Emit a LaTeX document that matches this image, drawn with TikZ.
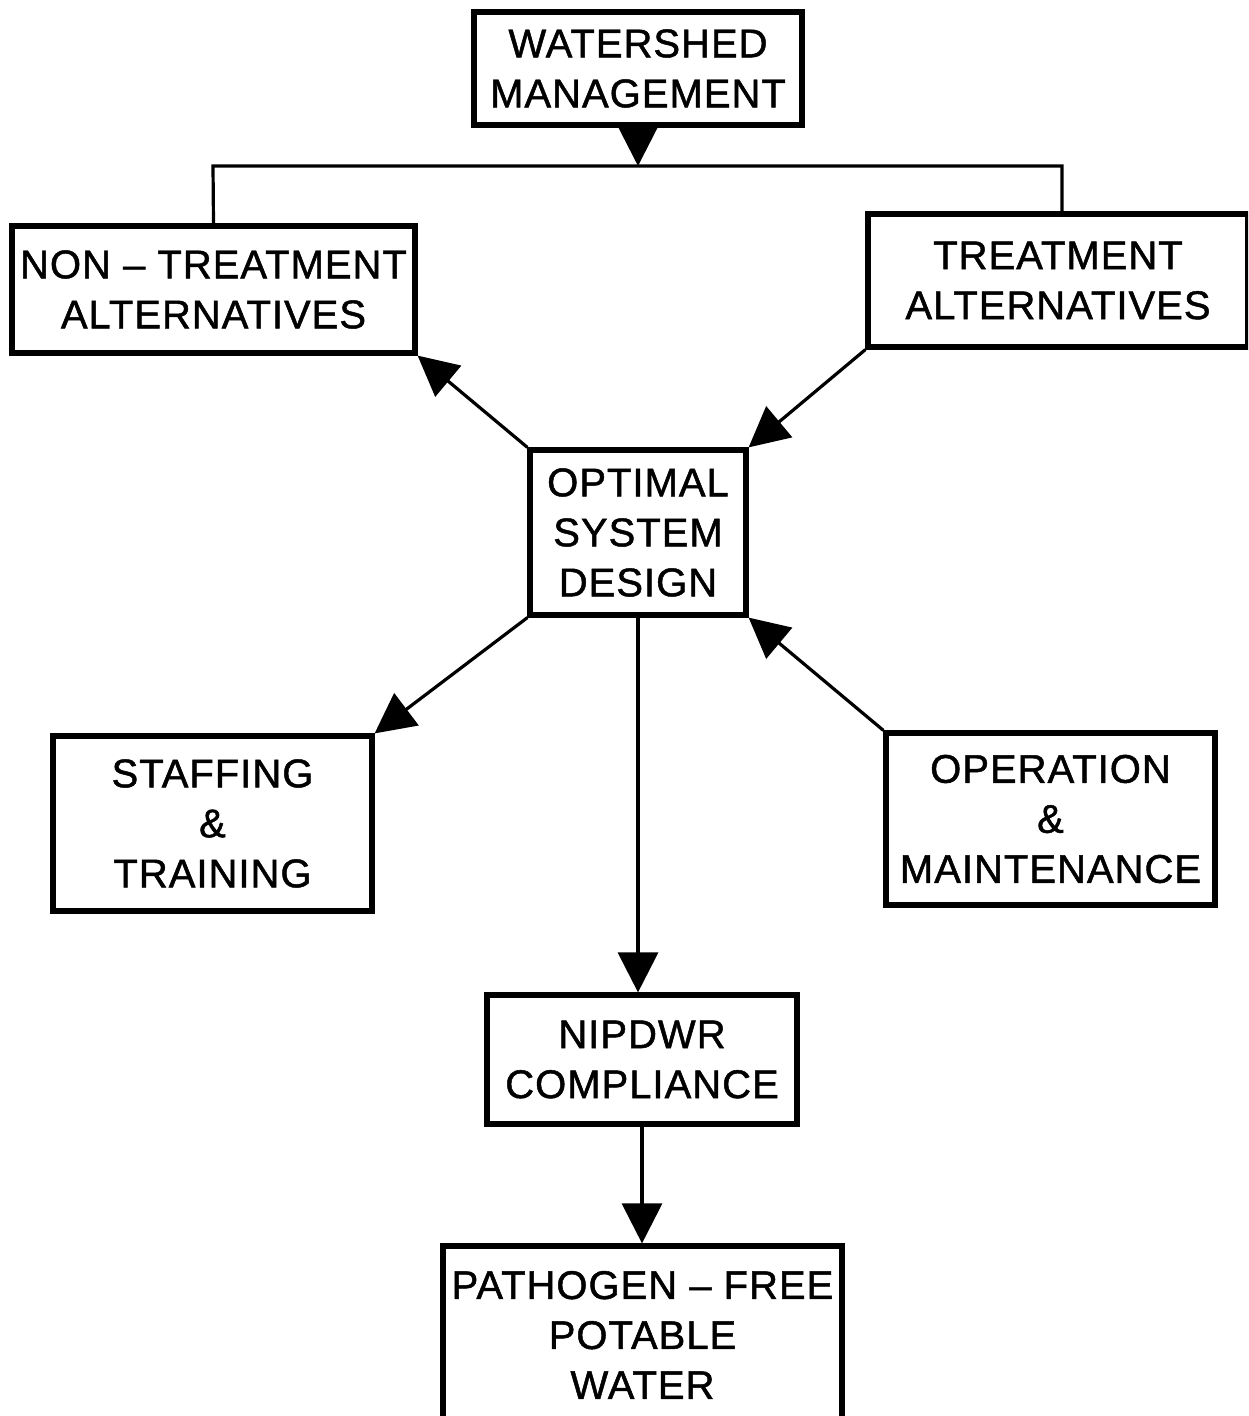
\documentclass[tikz,border=0pt]{standalone}
\usepackage{fontspec}
\setmainfont{Liberation Sans}[LetterSpace=2.5,FakeBold=1.2]
\usetikzlibrary{arrows.meta}
\begin{document}
\begin{tikzpicture}[x=0.5pt,y=-0.5pt,
  box/.style={draw, line width=2.6pt, align=center, inner sep=0pt,
    font=\fontsize{20}{25}\selectfont},
  conn/.style={line width=1.6pt},
  arr/.style={conn, -{Triangle[length=20pt,width=20pt]}}]
\useasboundingbox (0,0) rectangle (1248,1416);
\clip (0,0) rectangle (1248,1416);
\fill[white] (0,0) rectangle (1248,1416);
\node[box, minimum width=164pt, minimum height=56.5pt] (ws) at (638,68.5) {WATERSHED\\MANAGEMENT};
\node[box, minimum width=201.5pt, minimum height=63.5pt] (nt) at (213.5,289.5) {NON -- TREATMENT\\ALTERNATIVES};
\node[box, minimum width=190pt, minimum height=66.5pt] (tr) at (1058,280.5) {TREATMENT\\ALTERNATIVES};
\node[box, minimum width=108pt, minimum height=82.5pt] (os) at (638,532.5) {OPTIMAL\\SYSTEM\\DESIGN};
\node[box, minimum width=159.5pt, minimum height=87.5pt] (st) at (212.5,823.5) {STAFFING\\\&\\TRAINING};
\node[box, minimum width=164.5pt, minimum height=86pt] (om) at (1050.5,819) {OPERATION\\\&\\MAINTENANCE};
\node[box, minimum width=155pt, minimum height=64.5pt] (np) at (642,1059.5) {NIPDWR\\COMPLIANCE};
\node[box, minimum width=199.5pt, minimum height=90pt] (pf) at (642.5,1336) {};
\node[font=\fontsize{20}{25}\selectfont, align=center] (pft) at (642.5,1335) {PATHOGEN -- FREE\\POTABLE\\WATER};
\coordinate (jl) at (213,166);
\coordinate (jr) at (1062,166);
\draw[conn] (nt.north) -- (jl) -- (jr) -- (jr |- tr.north);
\draw[arr] (ws.south) -- (ws.south |- jl);
\draw[arr] (os.north west) -- (nt.south east);
\draw[arr] (tr.south west) -- (os.north east);
\draw[arr] (os.south west) -- (st.north east);
\draw[arr] (om.north west) -- (os.south east);
\draw[arr] (os.south) -- (os.south |- np.north);
\draw[arr] (np.south) -- (np.south |- pf.north);
\end{tikzpicture}
\end{document}
